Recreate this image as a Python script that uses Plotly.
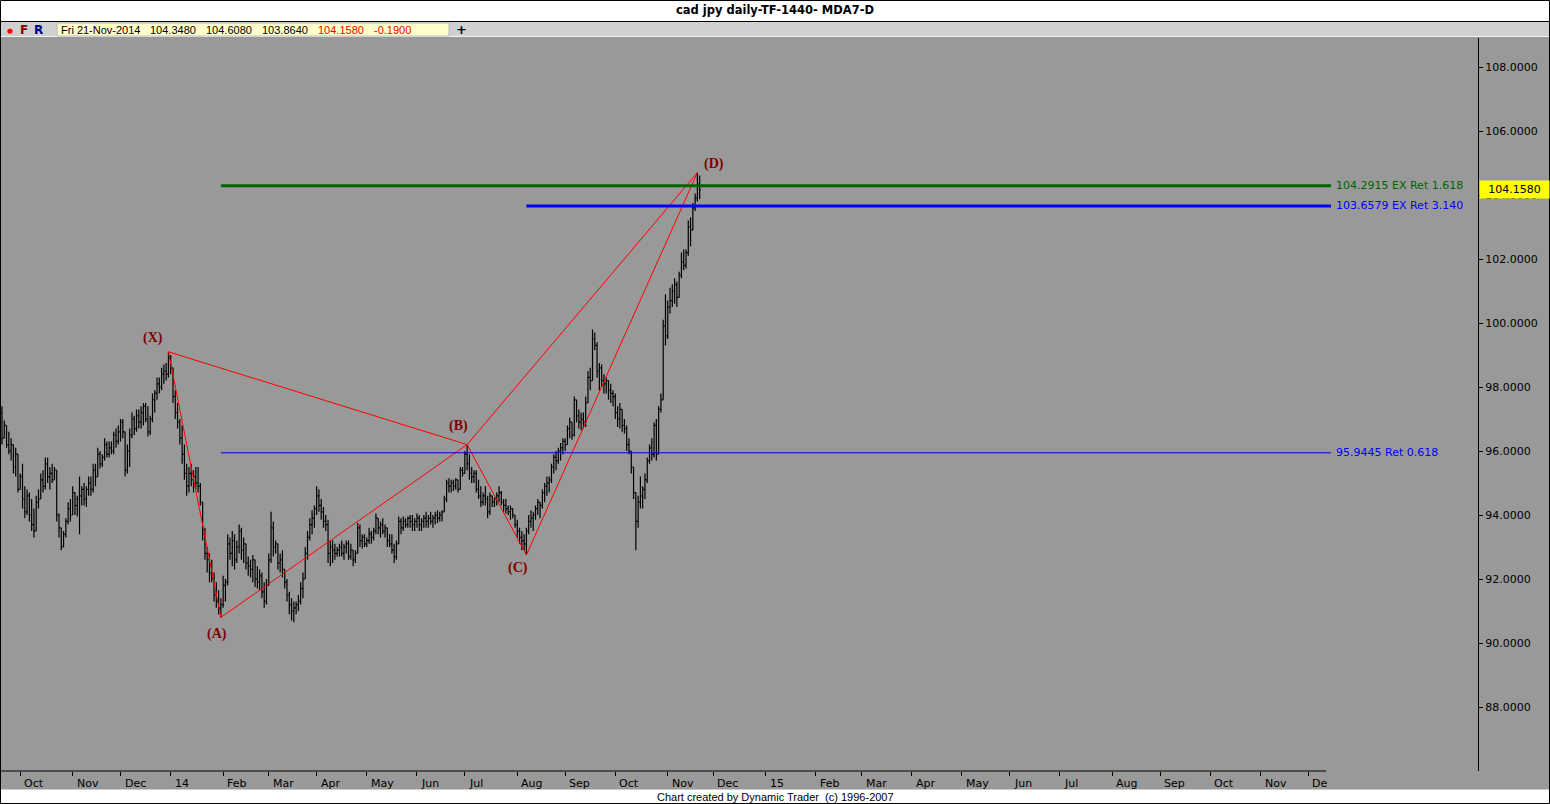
import pandas as pd
import plotly.graph_objects as go

# ---------------- data ----------------
last_bar_date = "2014-11-21"
axis_end_date = "2015-12-31"

bar_open = [
    97.2, 96.4, 96.8, 96.2, 96.0, 96.2, 95.5, 95.9, 94.8, 95.2,
    94.5, 94.1, 94.6, 94.0, 93.7, 93.5, 94.4, 94.5, 95.1, 94.9,
    95.6, 95.2, 95.3, 95.1, 95.4, 94.0, 93.6, 93.0, 93.4, 93.8,
    94.2, 94.0, 94.7, 94.3, 94.5, 94.6, 94.8, 94.5, 94.8, 95.0,
    94.8, 95.4, 95.2, 95.9, 95.6, 95.8, 96.2, 95.9, 96.1, 96.0,
    96.5, 96.3, 96.6, 96.9, 96.6, 95.4, 96.0, 96.5, 97.0, 96.7,
    97.1, 96.9, 97.2, 97.4, 97.0, 96.6, 97.0, 97.6, 97.8, 98.1,
    98.0, 98.4, 98.5, 98.4, 98.9, 98.6, 97.7, 97.2, 96.9, 96.4,
    95.9, 95.3, 94.9, 95.3, 95.1, 95.2, 95.0, 94.9, 94.4, 93.4,
    92.8, 92.6, 92.2, 92.0, 91.5, 91.3, 91.1, 91.2, 91.8, 91.9,
    93.1, 92.8, 93.2, 92.6, 93.0, 93.5, 92.9, 93.1, 92.5, 92.4,
    92.3, 92.6, 92.0, 91.9, 92.1, 91.6, 91.3, 91.8, 92.6, 93.6,
    93.0, 93.1, 92.5, 92.6, 92.3, 91.9, 91.5, 91.2, 91.0, 91.1,
    91.2, 91.3, 91.7, 92.0, 92.8, 93.3, 93.7, 93.9, 94.2, 94.6,
    94.3, 94.1, 93.8, 93.7, 92.8, 93.0, 92.9, 92.8, 92.9, 93.0,
    92.8, 93.0, 93.1, 92.7, 92.9, 92.6, 92.8, 93.6, 93.2, 93.3,
    93.1, 93.2, 93.4, 93.3, 93.5, 93.9, 93.6, 93.7, 93.5, 93.6,
    93.2, 93.1, 92.9, 92.7, 93.1, 93.8, 93.6, 93.8, 93.7, 93.9,
    93.8, 93.7, 93.8, 93.9, 93.7, 93.8, 93.9, 93.8, 93.9, 93.8,
    93.9, 94.0, 93.9, 94.0, 94.1, 94.5, 95.0, 94.9, 95.0, 94.9,
    95.1, 94.8, 95.4, 95.3, 95.9, 95.6, 95.3, 95.2, 95.3, 94.8,
    94.6, 94.4, 94.6, 94.5, 94.1, 94.6, 94.4, 94.5, 94.6, 94.7,
    94.4, 94.3, 94.2, 94.1, 94.2, 94.0, 93.7, 93.5, 93.3, 93.2,
    93.1, 93.5, 93.8, 93.9, 94.0, 94.2, 94.4, 94.3, 94.7, 94.9,
    95.0, 95.1, 95.5, 95.8, 95.7, 96.0, 96.1, 96.3, 96.2, 96.7,
    96.9, 96.5, 97.6, 97.1, 96.9, 97.0, 96.9, 97.5, 98.3, 98.2,
    99.5, 99.3, 98.5, 98.6, 98.2, 98.1, 98.2, 97.9, 97.8, 97.7,
    97.2, 97.0, 97.3, 96.8, 96.7, 96.2, 96.0, 95.5, 94.7, 93.8,
    94.4, 94.6, 94.8, 95.1, 95.7, 96.1, 95.9, 96.8, 95.9, 97.3,
    97.6, 99.9, 99.6, 100.5, 100.7, 101.0, 101.2, 100.8, 101.5, 101.9,
    101.8, 102.2, 103.0, 102.9, 103.6, 103.9, 104.348,
]

bar_high = [
    97.4, 96.95, 96.8, 96.6, 96.4, 96.2, 96.1, 95.9, 95.3, 95.6,
    94.9, 94.8, 94.7, 94.5, 94.2, 94.6, 94.8, 95.3, 95.4, 95.8,
    95.8, 95.5, 95.6, 95.5, 95.4, 94.05, 93.6, 93.5, 93.9, 94.4,
    94.5, 94.9, 94.7, 94.6, 95.2, 94.9, 95.0, 94.9, 95.2, 95.2,
    95.6, 95.6, 96.1, 96.0, 95.9, 96.4, 96.3, 96.3, 96.3, 96.6,
    96.7, 96.8, 97.0, 97.0, 96.6, 96.2, 96.7, 97.2, 97.1, 97.3,
    97.3, 97.4, 97.5, 97.5, 97.4, 97.1, 97.8, 97.9, 98.3, 98.3,
    98.6, 98.7, 98.75, 99.1, 99.0, 98.6, 97.9, 97.5, 97.0, 96.8,
    96.2, 95.6, 95.5, 95.6, 95.4, 95.5, 95.5, 95.0, 94.4, 93.6,
    93.0, 92.8, 92.6, 92.2, 91.9, 91.65, 91.4, 92.1, 92.0, 93.4,
    93.3, 93.5, 93.4, 93.2, 93.7, 93.6, 93.3, 93.1, 92.7, 92.6,
    92.75, 92.6, 92.4, 92.3, 92.2, 91.9, 92.0, 92.8, 94.1, 93.8,
    93.2, 93.1, 92.8, 92.9, 92.3, 92.0, 91.6, 91.4, 91.3, 91.3,
    91.5, 91.9, 92.2, 93.0, 93.5, 93.9, 94.15, 94.3, 94.9, 94.8,
    94.5, 94.25, 94.0, 93.85, 93.2, 93.2, 93.1, 93.0, 93.1, 93.2,
    93.1, 93.2, 93.2, 93.1, 92.9, 92.9, 93.75, 93.7, 93.4, 93.4,
    93.3, 93.6, 93.5, 93.6, 94.05, 93.9, 93.8, 93.9, 93.7, 93.6,
    93.4, 93.4, 93.1, 93.2, 93.95, 93.9, 93.95, 93.9, 93.95, 94.0,
    94.0, 93.9, 94.05, 94.0, 93.9, 94.0, 94.1, 94.0, 94.1, 94.0,
    94.1, 94.15, 94.1, 94.15, 94.6, 95.1, 95.15, 95.1, 95.1, 95.15,
    95.1, 95.5, 95.5, 96.0, 96.2, 95.9, 95.5, 95.4, 95.4, 95.1,
    94.9, 94.7, 94.9, 94.6, 94.7, 94.6, 94.55, 94.7, 94.9, 94.75,
    94.5, 94.5, 94.3, 94.3, 94.2, 94.0, 93.85, 93.6, 93.5, 93.4,
    93.6, 94.0, 94.15, 94.1, 94.3, 94.5, 94.4, 94.8, 95.0, 95.2,
    95.2, 95.6, 95.9, 96.0, 96.1, 96.25, 96.4, 96.4, 96.8, 97.05,
    96.9, 97.7, 97.6, 97.3, 97.2, 97.2, 97.7, 98.5, 98.6, 99.8,
    99.7, 99.4, 98.75, 98.7, 98.4, 98.3, 98.2, 98.1, 97.9, 97.8,
    97.4, 97.5, 97.3, 97.0, 96.8, 96.4, 96.0, 95.5, 94.7, 94.6,
    95.2, 94.9, 95.3, 95.8, 96.2, 96.4, 96.9, 97.0, 97.4, 97.8,
    100.1, 100.9, 100.7, 101.1, 101.2, 101.4, 101.3, 101.6, 102.2, 102.3,
    102.3, 103.2, 103.3, 103.75, 104.05, 104.7, 104.608,
]

bar_low = [
    96.2, 96.4, 96.1, 95.9, 95.7, 95.3, 95.2, 94.7, 94.8, 94.2,
    93.9, 94.0, 93.8, 93.5, 93.3, 93.5, 94.2, 94.5, 94.7, 94.8,
    95.0, 94.8, 95.0, 95.1, 93.8, 93.3, 92.9, 93.0, 93.3, 93.7,
    93.8, 94.0, 94.0, 93.95, 93.4, 94.3, 94.3, 94.25, 94.6, 94.6,
    94.7, 94.9, 95.2, 95.45, 95.5, 95.7, 95.8, 95.8, 95.9, 95.9,
    96.1, 96.2, 96.3, 96.4, 95.2, 95.3, 95.5, 96.4, 96.5, 96.6,
    96.7, 96.7, 96.8, 96.9, 96.45, 96.5, 96.9, 97.2, 97.6, 97.8,
    97.9, 98.1, 98.2, 98.3, 98.4, 97.5, 97.0, 96.7, 96.2, 95.6,
    95.1, 94.6, 94.7, 94.9, 94.7, 94.8, 94.7, 94.3, 93.2, 92.6,
    92.2, 91.9, 91.9, 91.3, 91.1, 90.9, 90.8, 91.1, 91.3, 91.8,
    92.6, 92.4, 92.3, 92.5, 92.8, 92.6, 92.5, 92.3, 92.1, 92.05,
    91.9, 91.75, 91.7, 91.65, 91.4, 91.1, 91.2, 91.8, 92.5, 92.7,
    92.8, 92.3, 92.2, 92.05, 91.7, 91.3, 90.9, 90.7, 90.65, 90.9,
    91.0, 91.2, 91.4, 92.0, 92.6, 93.2, 93.4, 93.6, 94.0, 94.1,
    93.85, 93.6, 93.5, 92.5, 92.4, 92.5, 92.6, 92.7, 92.7, 92.7,
    92.6, 92.8, 92.6, 92.6, 92.4, 92.5, 92.8, 93.0, 92.95, 93.0,
    93.0, 93.1, 93.1, 93.2, 93.4, 93.4, 93.3, 93.4, 93.3, 93.0,
    93.0, 92.8, 92.5, 92.6, 93.1, 93.4, 93.5, 93.6, 93.6, 93.6,
    93.5, 93.5, 93.6, 93.5, 93.5, 93.6, 93.6, 93.6, 93.7, 93.6,
    93.7, 93.75, 93.8, 93.8, 94.1, 94.4, 94.7, 94.7, 94.75, 94.8,
    94.7, 94.8, 95.2, 95.3, 95.4, 95.1, 95.0, 95.0, 94.7, 94.5,
    94.25, 94.3, 94.3, 93.9, 94.0, 94.25, 94.25, 94.3, 94.4, 94.3,
    94.1, 94.05, 94.0, 93.85, 93.9, 93.6, 93.3, 93.1, 92.9, 92.9,
    92.75, 93.4, 93.6, 93.5, 93.85, 94.0, 93.9, 94.2, 94.4, 94.6,
    94.7, 95.0, 95.3, 95.4, 95.6, 95.7, 95.9, 96.0, 96.2, 96.4,
    96.35, 96.45, 96.9, 96.7, 96.65, 96.7, 96.75, 97.5, 97.9, 98.2,
    99.15, 98.3, 97.9, 98.0, 97.8, 97.8, 97.6, 97.5, 97.4, 97.0,
    96.75, 96.7, 96.6, 96.55, 96.0, 95.9, 95.3, 94.5, 92.9, 93.6,
    94.2, 94.2, 94.5, 95.0, 95.6, 95.7, 95.8, 95.7, 95.9, 97.2,
    97.6, 99.3, 99.5, 100.3, 100.5, 100.6, 100.5, 100.8, 101.4, 101.65,
    101.7, 102.1, 102.4, 102.9, 103.5, 103.8, 103.864,
]

bar_close = [
    96.4, 96.8, 96.2, 96.0, 96.2, 95.5, 95.9, 94.8, 95.2, 94.5,
    94.1, 94.6, 94.0, 93.7, 93.5, 94.4, 94.5, 95.1, 94.9, 95.6,
    95.2, 95.3, 95.1, 95.4, 94.0, 93.6, 93.0, 93.4, 93.8, 94.2,
    94.0, 94.7, 94.3, 94.5, 94.6, 94.8, 94.5, 94.8, 95.0, 94.8,
    95.4, 95.2, 95.9, 95.6, 95.8, 96.2, 95.9, 96.1, 96.0, 96.5,
    96.3, 96.6, 96.9, 96.6, 95.4, 96.0, 96.5, 97.0, 96.7, 97.1,
    96.9, 97.2, 97.4, 97.0, 96.6, 97.0, 97.6, 97.8, 98.1, 98.0,
    98.4, 98.5, 98.4, 98.9, 98.6, 97.7, 97.2, 96.9, 96.4, 95.9,
    95.3, 94.9, 95.3, 95.1, 95.2, 95.0, 94.9, 94.4, 93.4, 92.8,
    92.6, 92.2, 92.0, 91.5, 91.3, 91.1, 91.2, 91.8, 91.9, 93.1,
    92.8, 93.2, 92.6, 93.0, 93.5, 92.9, 93.1, 92.5, 92.4, 92.3,
    92.6, 92.0, 91.9, 92.1, 91.6, 91.3, 91.8, 92.6, 93.6, 93.0,
    93.1, 92.5, 92.6, 92.3, 91.9, 91.5, 91.2, 91.0, 91.1, 91.2,
    91.3, 91.7, 92.0, 92.8, 93.3, 93.7, 93.9, 94.2, 94.6, 94.3,
    94.1, 93.8, 93.7, 92.8, 93.0, 92.9, 92.8, 92.9, 93.0, 92.8,
    93.0, 93.1, 92.7, 92.9, 92.6, 92.8, 93.6, 93.2, 93.3, 93.1,
    93.2, 93.4, 93.3, 93.5, 93.9, 93.6, 93.7, 93.5, 93.6, 93.2,
    93.1, 92.9, 92.7, 93.1, 93.8, 93.6, 93.8, 93.7, 93.9, 93.8,
    93.7, 93.8, 93.9, 93.7, 93.8, 93.9, 93.8, 93.9, 93.8, 93.9,
    94.0, 93.9, 94.0, 94.1, 94.5, 95.0, 94.9, 95.0, 94.9, 95.1,
    94.8, 95.4, 95.3, 95.9, 95.6, 95.3, 95.2, 95.3, 94.8, 94.6,
    94.4, 94.6, 94.5, 94.1, 94.6, 94.4, 94.5, 94.6, 94.7, 94.4,
    94.3, 94.2, 94.1, 94.2, 94.0, 93.7, 93.5, 93.3, 93.2, 93.1,
    93.5, 93.8, 93.9, 94.0, 94.2, 94.4, 94.3, 94.7, 94.9, 95.0,
    95.1, 95.5, 95.8, 95.7, 96.0, 96.1, 96.3, 96.2, 96.7, 96.9,
    96.5, 97.6, 97.1, 96.9, 97.0, 96.9, 97.5, 98.3, 98.2, 99.5,
    99.3, 98.5, 98.6, 98.2, 98.1, 98.2, 97.9, 97.8, 97.7, 97.2,
    97.0, 97.3, 96.8, 96.7, 96.2, 96.0, 95.5, 94.7, 93.8, 94.4,
    94.6, 94.8, 95.1, 95.7, 96.1, 95.9, 96.8, 95.9, 97.3, 97.6,
    99.9, 99.6, 100.5, 100.7, 101.0, 101.2, 100.8, 101.5, 101.9, 101.8,
    102.2, 103.0, 102.9, 103.6, 103.9, 104.35, 104.158,
]

month_labels = ["Oct", "Nov", "Dec", "14", "Feb", "Mar", "Apr", "May", "Jun",
                "Jul", "Aug", "Sep", "Oct", "Nov", "Dec", "15", "Feb", "Mar",
                "Apr", "May", "Jun", "Jul", "Aug", "Sep", "Oct", "Nov", "De"]
y_ticks = [88.0, 90.0, 92.0, 94.0, 96.0, 98.0, 100.0, 102.0, 104.0, 106.0, 108.0]

pattern_names = ["(X)", "(A)", "(B)", "(C)", "(D)"]
pattern_bar = [73, 96, 204, 230, 305]
pattern_price = [99.1, 90.8, 96.2, 92.75, 104.7]

level_prices = [104.2915, 103.6579, 95.9445]
level_texts = ["104.2915 EX Ret 1.618", "103.6579 EX Ret 3.140", "95.9445 Ret 0.618"]
level_start_point = [1, 3, 1]   # index into pattern points

title_text = "cad jpy daily-TF-1440- MDA7-D"
info_texts = ["Fri 21-Nov-2014", "104.3480", "104.6080", "103.8640", "104.1580", "-0.1900"]
last_close_text = "104.1580"
footer_text = "Chart created by Dynamic Trader\u00a0 (c) 1996-2007"

# ---------------- geometry / style ----------------
W, H = 1550, 804
ML, MR, MT, MB = 0, 72, 38, 33
PW = W - ML - MR
PH = H - MT - MB
BAR_PX = 2.28
FIRST_BAR_PX = 2.0
Y_RANGE = [86.0, 108.90625]
LEVEL_END_PX = 1331

GRAY = "#999999"


def px_x(px):
    return (px - ML) / PW


def px_y(py):
    return (H - MB - py) / PH


def px_bar(px):
    return (px - FIRST_BAR_PX) / BAR_PX


x_range = [px_bar(0), px_bar(PW)]
level_end = px_bar(LEVEL_END_PX)

n = len(bar_close)
bar_x = list(range(n))
dates = pd.bdate_range(end=last_bar_date, periods=n)
axis_days = pd.bdate_range(start=dates[0], end=axis_end_date)
month_pos = [k for k in range(1, len(axis_days))
             if axis_days[k].month != axis_days[k - 1].month]
month_pos = month_pos[:len(month_labels)]

fig = go.Figure()

fig.add_trace(go.Ohlc(
    x=bar_x, open=bar_open, high=bar_high, low=bar_low, close=bar_close,
    increasing=dict(line=dict(color="black", width=1.2)),
    decreasing=dict(line=dict(color="black", width=1.2)),
    tickwidth=0.5, hoverinfo="skip", showlegend=False,
))

# harmonic pattern lines: X-A-B-C-D, X-B, B-D
px_pts = pattern_bar + [None, pattern_bar[0], pattern_bar[2], pattern_bar[4]]
py_pts = pattern_price + [None, pattern_price[0], pattern_price[2], pattern_price[4]]
fig.add_trace(go.Scatter(x=px_pts, y=py_pts, mode="lines",
                         line=dict(color="#ff0000", width=1),
                         hoverinfo="skip", showlegend=False))

shapes = []
annotations = []

# level lines
level_colors = ["#006400", "#0000ff", "#0000c8"]
label_colors = ["#006400", "#0000ff", "#0000ff"]
level_widths = [3, 3, 1]
for price, txt, sp, col, lcol, lw in zip(level_prices, level_texts, level_start_point,
                                          level_colors, label_colors, level_widths):
    shapes.append(dict(type="line", xref="x", yref="y",
                       x0=pattern_bar[sp], x1=level_end, y0=price, y1=price,
                       line=dict(color=col, width=lw)))
    annotations.append(dict(x=level_end, y=price, xref="x", yref="y", text=txt,
                            showarrow=False, xanchor="left", yanchor="middle", xshift=3,
                            font=dict(family="DejaVu Sans", size=11, color=lcol)))

# pattern labels
label_shift = [(-15, 14), (-4, -17), (-9, 19), (-8, -13), (17, 9)]
for name, bx, pr, (sx, sy) in zip(pattern_names, pattern_bar, pattern_price, label_shift):
    annotations.append(dict(x=bx, y=pr, xref="x", yref="y", text="<b>%s</b>" % name,
                            showarrow=False, xshift=sx, yshift=sy,
                            xanchor="center", yanchor="middle",
                            font=dict(family="Liberation Serif", size=14, color="#800000")))

# month labels
for pos, lab in zip(month_pos, month_labels):
    annotations.append(dict(x=pos, y=px_y(783), xref="x", yref="paper", text=lab,
                            showarrow=False, xanchor="left", yanchor="middle", xshift=2,
                            font=dict(family="DejaVu Sans", size=11, color="black")))

# window chrome
shapes += [
    dict(type="rect", xref="paper", yref="paper", x0=px_x(0), x1=px_x(W),
         y0=px_y(21), y1=px_y(-2), fillcolor="white", line=dict(width=0)),
    dict(type="rect", xref="paper", yref="paper", x0=px_x(0), x1=px_x(W),
         y0=px_y(36), y1=px_y(21.5), fillcolor="#d0d0d0", line=dict(width=0)),
    dict(type="line", xref="paper", yref="paper", x0=px_x(0), x1=px_x(W),
         y0=px_y(21.5), y1=px_y(21.5), line=dict(color="black", width=1)),
    dict(type="line", xref="paper", yref="paper", x0=px_x(0), x1=px_x(W),
         y0=px_y(36.5), y1=px_y(36.5), line=dict(color="#f2f2f2", width=1)),
    dict(type="rect", xref="paper", yref="paper", x0=px_x(57), x1=px_x(449),
         y0=px_y(36), y1=px_y(23), fillcolor="#ffffcc", line=dict(color="#b8b8b8", width=1)),
    dict(type="rect", xref="paper", yref="paper", x0=px_x(0), x1=px_x(W),
         y0=px_y(H + 2), y1=px_y(789.5), fillcolor="white", line=dict(width=0)),
    dict(type="line", xref="paper", yref="paper", x0=px_x(0), x1=px_x(1326),
         y0=0, y1=0, line=dict(color="black", width=1)),
    dict(type="rect", xref="paper", yref="paper", x0=px_x(0.5), x1=px_x(W - 0.5),
         y0=px_y(H - 0.5), y1=px_y(0.5), line=dict(color="black", width=1)),
]


def paper_text(px, py, text, family, size, color, xanchor="center"):
    return dict(x=px_x(px), y=px_y(py), xref="paper", yref="paper", text=text,
                showarrow=False, xanchor=xanchor, yanchor="middle",
                font=dict(family=family, size=size, color=color))


# title / toolbar / footer texts
annotations.append(paper_text(W / 2, 10, "<b>%s</b>" % title_text, "DejaVu Sans", 11.5, "black"))
annotations.append(paper_text(10, 30.5, "●", "DejaVu Sans", 7, "#ff0000"))
annotations.append(paper_text(24, 30, "<b>F</b>", "DejaVu Sans", 12, "#800000"))
annotations.append(paper_text(38.5, 30, "<b>R</b>", "DejaVu Sans", 12, "#000080"))
info_x = [59, 148, 204, 260, 316, 372]
info_col = ["black", "black", "black", "black", "#ff0000", "#ff0000"]
for t, xx, c in zip(info_texts, info_x, info_col):
    annotations.append(paper_text(xx, 30, t, "Liberation Sans", 11, c, xanchor="left"))
annotations.append(paper_text(462, 30, "<b>+</b>", "DejaVu Sans", 13, "black"))
annotations.append(paper_text(W / 2, 796.5, footer_text, "Liberation Sans", 11, "black"))

# last price marker
annotations.append(dict(x=1, y=bar_close[-1], xref="paper", yref="y", text=last_close_text,
                        showarrow=False, xanchor="left", yanchor="middle", xshift=1,
                        bgcolor="#ffff00", width=67, height=15, borderpad=1, align="center",
                        font=dict(family="DejaVu Sans", size=11, color="black")))

fig.update_layout(
    width=W, height=H,
    margin=dict(l=ML, r=MR, t=MT, b=MB, autoexpand=False),
    paper_bgcolor=GRAY, plot_bgcolor=GRAY,
    showlegend=False, hovermode=False,
    xaxis=dict(range=x_range, showgrid=False, zeroline=False, showline=False,
               tickvals=month_pos, ticktext=[""] * len(month_pos), showticklabels=False,
               ticks="outside", ticklen=4, tickcolor="black", tickwidth=1,
               rangeslider=dict(visible=False), fixedrange=True),
    yaxis=dict(range=Y_RANGE, side="right", showgrid=False, zeroline=False,
               showline=True, linecolor="black", linewidth=1,
               tickvals=y_ticks, ticktext=["%.4f" % v for v in y_ticks],
               ticks="outside", ticklen=4, tickcolor="black",
               tickfont=dict(family="DejaVu Sans", size=11, color="black"),
               fixedrange=True),
    shapes=shapes,
    annotations=annotations,
)

fig.write_html("out.html", config={"displayModeBar": False},
               post_script="document.body.style.margin='0';document.body.style.padding='0';"
                           "document.body.style.overflow='hidden';")
